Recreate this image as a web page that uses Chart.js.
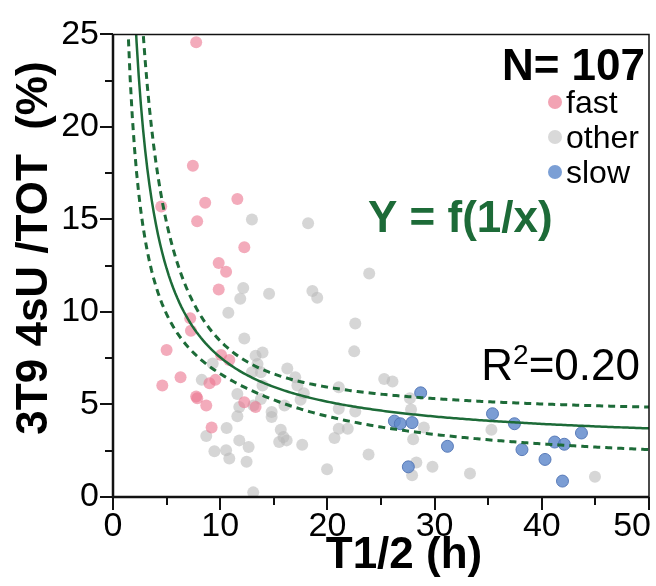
<!DOCTYPE html>
<html>
<head>
<meta charset="utf-8">
<script src="https://cdn.jsdelivr.net/npm/chart.js@4"></script>
<style>
  html, body { margin: 0; padding: 0; background: #fff; }
</style>
</head>
<body>
<canvas id="decay" width="656" height="586"></canvas>
<script>
// half-life T1/2 (h) and 4sU/TOT (%) per transcript class
const fastX = [7.76, 7.45, 4.5, 8.6, 11.6, 7.85, 12.25, 9.86, 10.55, 9.86, 7.2, 7.27, 5.0,
  10.08, 10.85, 6.3, 4.6, 9.0, 9.55, 7.76, 7.86, 12.25, 13.3, 8.7, 9.2];
const fastY = [24.57, 17.9, 15.7, 15.9, 16.1, 14.9, 13.5, 12.65, 12.17, 11.22, 9.66, 8.98, 7.94,
  7.67, 7.4, 6.47, 6.02, 6.15, 6.33, 5.43, 5.34, 5.12, 4.86, 4.95, 3.75];

const otherX = [12.96, 12.15, 11.87, 14.56, 18.2, 23.9, 18.6, 19.05, 22.6, 10.76, 12.25, 13.3,
  13.95, 9.3, 13.48, 16.26, 12.96, 13.8, 17.0, 8.28, 13.95, 17.2, 11.6, 13.1, 11.78, 11.6,
  14.8, 14.8, 8.7, 10.6, 15.65, 15.9, 15.5, 16.2, 11.78, 12.65, 9.46, 10.55, 10.85, 12.46,
  13.08, 17.65, 13.8, 16.0, 17.8, 17.5, 22.5, 21.06, 21.06, 22.6, 25.3, 26.07, 27.7, 27.8,
  29.0, 28.0, 21.06, 21.9, 20.66, 23.84, 19.97, 28.3, 27.9, 29.8, 33.3, 35.3, 44.96];
const otherY = [15.0, 11.3, 10.72, 10.98, 14.8, 12.08, 11.13, 10.77, 9.37, 9.96, 8.56, 7.63,
  7.81, 7.22, 7.19, 6.95, 6.74, 6.74, 6.47, 6.33, 6.02, 6.02, 5.57, 4.95, 4.86, 4.37,
  4.59, 4.32, 3.3, 3.73, 3.64, 3.24, 2.97, 3.06, 3.06, 2.7, 2.47, 2.53, 2.08, 1.9,
  0.25, 2.83, 5.3, 4.95, 5.61, 5.26, 7.87, 5.93, 4.77, 4.62, 6.38, 6.24, 5.34, 4.73,
  3.75, 3.12, 3.69, 3.69, 3.19, 2.3, 1.5, 1.86, 1.18, 1.63, 1.27, 3.64, 1.09];

const slowX = [28.7, 26.25, 26.8, 27.9, 31.2, 27.55, 35.4, 37.45, 38.15, 41.2, 42.1, 43.7, 40.3, 41.93];
const slowY = [5.63, 4.1, 3.96, 4.02, 2.74, 1.63, 4.5, 3.96, 2.56, 2.97, 2.85, 3.46, 2.03, 0.86];

const xTickLabels = [0, 10, 20, 30, 40, 50];
const yTickLabels = [0, 5, 10, 15, 20, 25];

// fitted Y = a + b/x, with its confidence band in u = 1/x
const fitA = 2.75, fitB = 48;
const bandS0 = 0.7, bandS1 = 18.2, bandU0 = 0.07;

const FONT = "'Liberation Sans', Arial, Helvetica, sans-serif";
const GREEN = '#1d6b38';

const pts = (xs, ys) => xs.map((v, i) => ({ x: v, y: ys[i] }));

const curveX = [];
for (let v = 1.0; v <= 50.001; v += 0.2) curveX.push(+v.toFixed(2));
const fitAt = v => fitA + fitB / v;
const bandAt = v => Math.sqrt(bandS0 * bandS0 + bandS1 * bandS1 * Math.pow(1 / v - bandU0, 2));

const fitLine = curveX.map(v => ({ x: v, y: fitAt(v) }));
const upperLine = curveX.map(v => ({ x: v, y: fitAt(v) + bandAt(v) }));
const lowerLine = curveX.map(v => ({ x: v, y: fitAt(v) - bandAt(v) }));

const lineSet = (data, dashed) => ({
  type: 'line',
  data: data,
  borderColor: GREEN,
  borderWidth: dashed ? 3 : 2.5,
  borderDash: dashed ? [7, 5] : [],
  pointRadius: 0,
  fill: false,
  tension: 0,
  clip: 0,
  order: 0
});

// axes frame, tick marks and all the text drawn on the canvas
const frame = {
  id: 'frame',
  afterDraw(chart) {
    const { ctx, chartArea: a, scales: { x, y } } = chart;
    ctx.save();
    ctx.strokeStyle = '#111';
    ctx.lineWidth = 1.5;
    ctx.beginPath();
    ctx.moveTo(a.left, a.top);
    ctx.lineTo(a.right, a.top);
    ctx.lineTo(a.right, a.bottom);
    ctx.stroke();

    ctx.lineWidth = 2.5;
    ctx.beginPath();
    ctx.moveTo(a.left, a.top);
    ctx.lineTo(a.left, a.bottom);
    ctx.lineTo(a.right, a.bottom);
    ctx.stroke();

    ctx.lineWidth = 2;
    for (let v = 0; v <= 50; v += 5) {
      const px = Math.round(x.getPixelForValue(v));
      const len = xTickLabels.includes(v) ? 13 : 8;
      ctx.beginPath();
      ctx.moveTo(px, a.bottom);
      ctx.lineTo(px, a.bottom + len);
      ctx.stroke();
    }
    for (let v = 0; v <= 25; v += 2.5) {
      const py = Math.round(y.getPixelForValue(v));
      const len = yTickLabels.includes(v) ? 13 : 8;
      ctx.beginPath();
      ctx.moveTo(a.left, py);
      ctx.lineTo(a.left - len, py);
      ctx.stroke();
    }

    ctx.fillStyle = '#000';
    ctx.textBaseline = 'alphabetic';

    // x tick labels; the last one sits inside the right edge
    ctx.font = '34px ' + FONT;
    xTickLabels.forEach((v, i) => {
      const last = i === xTickLabels.length - 1;
      ctx.textAlign = last ? 'right' : 'center';
      ctx.fillText(String(v), x.getPixelForValue(v) + (last ? 2 : 0), 536);
    });

    // axis titles
    ctx.font = 'bold 44px ' + FONT;
    ctx.textAlign = 'center';
    ctx.fillText('T1/2 (h)', 404, 568);
    ctx.save();
    ctx.translate(47, 248);
    ctx.rotate(-Math.PI / 2);
    ctx.fillText('3T9 4sU /TOT  (%)', 0, 0);
    ctx.restore();

    // sample size and legend
    ctx.textAlign = 'right';
    ctx.fillText('N= 107', 645, 80);

    const legend = [
      ['fast', '#f2a3b3', 102],
      ['other', '#d9d9d9', 137],
      ['slow', '#7b9fd5', 172]
    ];
    ctx.font = '32px ' + FONT;
    ctx.textAlign = 'left';
    legend.forEach(([label, color, cy]) => {
      ctx.fillStyle = color;
      ctx.beginPath();
      ctx.arc(555, cy, 7, 0, Math.PI * 2);
      ctx.fill();
      ctx.fillStyle = '#000';
      ctx.fillText(label, 566, cy + 11);
    });

    // model and goodness of fit
    ctx.font = 'bold 44px ' + FONT;
    ctx.fillStyle = GREEN;
    ctx.fillText('Y = f(1/x)', 368, 232);

    ctx.fillStyle = '#000';
    ctx.font = '44px ' + FONT;
    const tail = '=0.20';
    const wTail = ctx.measureText(tail).width;
    const wR = ctx.measureText('R').width;
    ctx.font = '28px ' + FONT;
    const wSup = ctx.measureText('2').width;
    let left = 640 - wTail - wSup - wR;
    ctx.font = '44px ' + FONT;
    ctx.fillText('R', left, 380);
    ctx.font = '28px ' + FONT;
    ctx.fillText('2', left + wR, 364);
    ctx.font = '44px ' + FONT;
    ctx.fillText(tail, left + wR + wSup, 380);
    ctx.restore();
  }
};

new Chart(document.getElementById('decay').getContext('2d'), {
  type: 'scatter',
  data: {
    datasets: [
      lineSet(fitLine, false),
      lineSet(upperLine, true),
      lineSet(lowerLine, true),
      {
        label: 'slow',
        data: pts(slowX, slowY),
        backgroundColor: 'rgba(100,140,205,0.85)',
        borderColor: 'rgba(80,115,180,0.9)',
        borderWidth: 1,
        pointRadius: 6,
        order: 1
      },
      {
        label: 'fast',
        data: pts(fastX, fastY),
        backgroundColor: 'rgba(236,120,145,0.62)',
        borderWidth: 0,
        pointRadius: 6,
        order: 2
      },
      {
        label: 'other',
        data: pts(otherX, otherY),
        backgroundColor: 'rgba(185,185,185,0.58)',
        borderWidth: 0,
        pointRadius: 6,
        order: 3
      }
    ]
  },
  options: {
    responsive: false,
    animation: false,
    layout: { padding: { top: 32, right: 4, left: 0, bottom: 0 } },
    plugins: { legend: { display: false }, tooltip: { enabled: false } },
    scales: {
      x: {
        type: 'linear',
        min: 0,
        max: 50,
        afterFit: s => { s.height = 89; s.paddingLeft = 0; s.paddingRight = 0; },
        grid: { display: false, drawTicks: false },
        border: { display: false },
        ticks: { display: false, stepSize: 10 }
      },
      y: {
        min: 0,
        max: 25,
        afterFit: s => { s.width = 113; },
        grid: { display: false, drawTicks: false },
        border: { display: false },
        ticks: { stepSize: 5, padding: 14, color: '#000', font: { family: FONT, size: 34 } }
      }
    }
  },
  plugins: [frame]
});
</script>
</body>
</html>
